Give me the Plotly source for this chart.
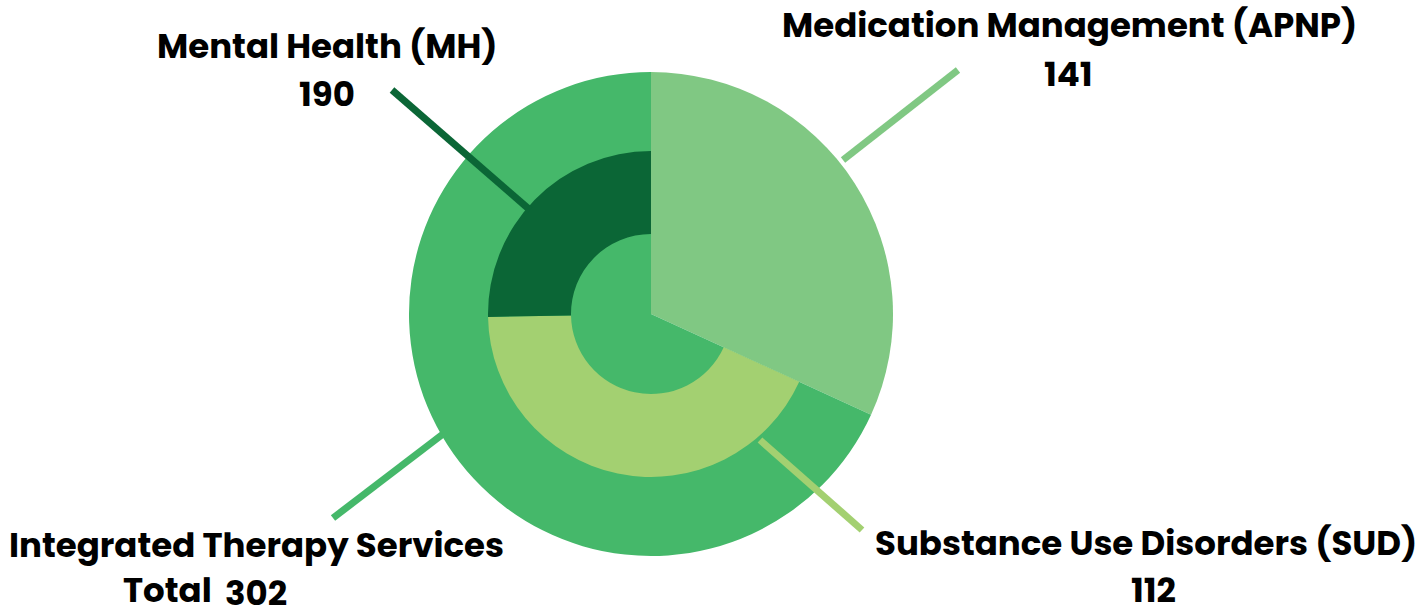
import plotly.graph_objects as go

W, H = 1421, 609

# Data
outer_labels = ["Medication Management (APNP)", "Integrated Therapy Services"]
outer_values = [141, 302]
outer_colors = ["#80C883", "#45B86A"]

ring_labels = ["Medication Management (APNP)", "Substance Use Disorders (SUD)", "Mental Health (MH)"]
ring_values = [141, 190, 112]
ring_colors = ["rgba(0,0,0,0)", "#A3D071", "#0B6636"]

label_texts = ["Mental Health (MH)", "Medication Management (APNP)",
               "Integrated Therapy Services", "Substance Use Disorders (SUD)"]
value_texts = ["190", "141", "302", "112"]

def px(x):
    return x / W

def py(y):
    return 1 - y / H

cx, cy = 651, 314
R_out, R_mid, R_in = 242, 163, 80

fig = go.Figure()
fig.add_trace(go.Pie(
    labels=outer_labels, values=outer_values, sort=False, direction="clockwise", rotation=0,
    marker=dict(colors=outer_colors, line=dict(width=0)), textinfo="none", hoverinfo="label+value",
    domain=dict(x=[px(cx - R_out), px(cx + R_out)], y=[py(cy + R_out), py(cy - R_out)]),
    showlegend=False,
))
fig.add_trace(go.Pie(
    labels=ring_labels, values=ring_values, sort=False, direction="clockwise", rotation=0,
    hole=R_in / R_mid,
    marker=dict(colors=ring_colors, line=dict(width=0)), textinfo="none", hoverinfo="label+value",
    domain=dict(x=[px(cx - R_mid), px(cx + R_mid)], y=[py(cy + R_mid), py(cy - R_mid)]),
    showlegend=False,
))

lines = [
    ((392, 90), (530, 210), "#0B6636"),
    ((958, 70), (843, 160), "#80C883"),
    ((333, 518), (443, 434), "#45B86A"),
    ((760, 440), (862, 530), "#A3D071"),
]
for (x0, y0), (x1, y1), c in lines:
    fig.add_shape(type="line", xref="paper", yref="paper",
                  x0=px(x0), y0=py(y0), x1=px(x1), y1=py(y1),
                  line=dict(color=c, width=7))

font = dict(family="Poppins, Open Sans, sans-serif", size=34, color="#000000", weight=700)
title_pos = [(327, 46), (1069, 25), (256, 545), (1146, 543)]
for t, (x, y) in zip(label_texts, title_pos):
    fig.add_annotation(text=t, x=px(x), y=py(y), xref="paper", yref="paper",
                       xanchor="center", yanchor="middle", showarrow=False, font=font)

value_pos = [(327, 94), (1068, 74), (256, 593), (1153, 590)]
for t, (x, y) in zip(value_texts, value_pos):
    fig.add_annotation(text=t, x=px(x), y=py(y), xref="paper", yref="paper",
                       xanchor="center", yanchor="middle", showarrow=False, font=font)
fig.add_annotation(text="Total", x=px(167), y=py(590), xref="paper", yref="paper",
                   xanchor="center", yanchor="middle", showarrow=False, font=font)

fig.update_layout(width=W, height=H, margin=dict(l=0, r=0, t=0, b=0),
                  paper_bgcolor="white", plot_bgcolor="white")
fig.write_html("out.html", config={"displayModeBar": False},
               post_script="document.body.style.margin='0';document.body.style.overflow='hidden';")
